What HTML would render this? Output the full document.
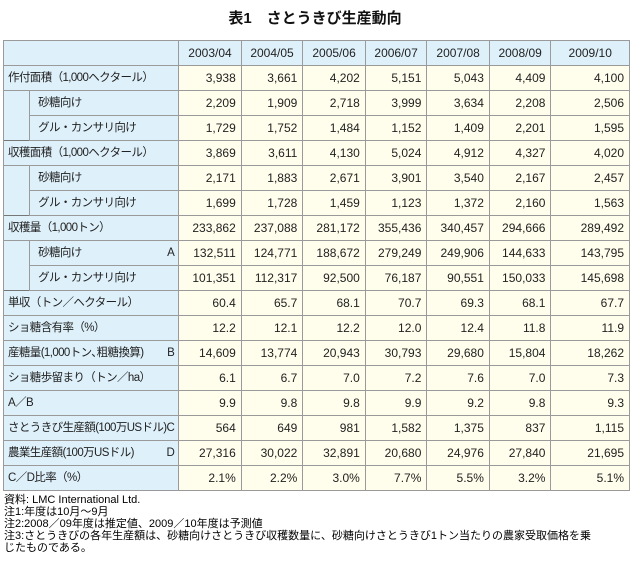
<!DOCTYPE html>
<html><head><meta charset="utf-8">
<style>
body{margin:0;width:630px;height:566px;background:#fff;overflow:hidden;font-family:"Liberation Sans","Noto Sans CJK JP",sans-serif;position:relative}
#title{position:absolute;top:7px;left:0;width:630px;text-align:center;font-size:15px;font-weight:bold;color:#111}
table{position:absolute;left:3px;top:40px;border-collapse:collapse;table-layout:fixed;font-size:12px;color:#222}
td{border:1px solid #9a9a9a;padding:0 5px;height:24px;line-height:24px;white-space:nowrap;overflow:hidden}
tr{height:25px}
td.l{background:#def0fa;text-align:left;padding:0 4px}
td.l div{display:flex;justify-content:space-between;font-size:11.5px;letter-spacing:-0.6px}
td.i{background:#def0fa;border-top:none;border-bottom:none}
td.h{background:#def0fa;text-align:center;height:23px;line-height:23px}
td.v{background:#fffdeb;text-align:right}
tr.g td{border-top:1px solid #777}
td.s{padding-left:8px}
#notes{position:absolute;left:4px;top:494px;font-size:11px;line-height:12px;color:#000}
</style></head>
<body>
<div id="title">表1　さとうきび生産動向</div>
<table>
<colgroup><col style="width:25px"><col style="width:143px"><col style="width:63px"><col style="width:62px"><col style="width:63px"><col style="width:62px"><col style="width:63px"><col style="width:62px"><col style="width:80px"></colgroup>
<tr><td class="h" colspan="2"></td><td class="h">2003/04</td><td class="h">2004/05</td><td class="h">2005/06</td><td class="h">2006/07</td><td class="h">2007/08</td><td class="h">2008/09</td><td class="h">2009/10</td></tr>
<tr class="g"><td class="l" colspan="2"><div>作付面積（1,000ヘクタール）</div></td><td class="v">3,938</td><td class="v">3,661</td><td class="v">4,202</td><td class="v">5,151</td><td class="v">5,043</td><td class="v">4,409</td><td class="v">4,100</td></tr>
<tr><td class="i" rowspan="2"></td><td class="l s"><div>砂糖向け</div></td><td class="v">2,209</td><td class="v">1,909</td><td class="v">2,718</td><td class="v">3,999</td><td class="v">3,634</td><td class="v">2,208</td><td class="v">2,506</td></tr>
<tr><td class="l s"><div>グル・カンサリ向け</div></td><td class="v">1,729</td><td class="v">1,752</td><td class="v">1,484</td><td class="v">1,152</td><td class="v">1,409</td><td class="v">2,201</td><td class="v">1,595</td></tr>
<tr class="g"><td class="l" colspan="2"><div>収穫面積（1,000ヘクタール）</div></td><td class="v">3,869</td><td class="v">3,611</td><td class="v">4,130</td><td class="v">5,024</td><td class="v">4,912</td><td class="v">4,327</td><td class="v">4,020</td></tr>
<tr><td class="i" rowspan="2"></td><td class="l s"><div>砂糖向け</div></td><td class="v">2,171</td><td class="v">1,883</td><td class="v">2,671</td><td class="v">3,901</td><td class="v">3,540</td><td class="v">2,167</td><td class="v">2,457</td></tr>
<tr><td class="l s"><div>グル・カンサリ向け</div></td><td class="v">1,699</td><td class="v">1,728</td><td class="v">1,459</td><td class="v">1,123</td><td class="v">1,372</td><td class="v">2,160</td><td class="v">1,563</td></tr>
<tr class="g"><td class="l" colspan="2"><div>収穫量（1,000トン）</div></td><td class="v">233,862</td><td class="v">237,088</td><td class="v">281,172</td><td class="v">355,436</td><td class="v">340,457</td><td class="v">294,666</td><td class="v">289,492</td></tr>
<tr><td class="i" rowspan="2"></td><td class="l s"><div><span>砂糖向け</span><span>A</span></div></td><td class="v">132,511</td><td class="v">124,771</td><td class="v">188,672</td><td class="v">279,249</td><td class="v">249,906</td><td class="v">144,633</td><td class="v">143,795</td></tr>
<tr><td class="l s"><div>グル・カンサリ向け</div></td><td class="v">101,351</td><td class="v">112,317</td><td class="v">92,500</td><td class="v">76,187</td><td class="v">90,551</td><td class="v">150,033</td><td class="v">145,698</td></tr>
<tr class="g"><td class="l" colspan="2"><div>単収（トン／ヘクタール）</div></td><td class="v">60.4</td><td class="v">65.7</td><td class="v">68.1</td><td class="v">70.7</td><td class="v">69.3</td><td class="v">68.1</td><td class="v">67.7</td></tr>
<tr><td class="l" colspan="2"><div>ショ糖含有率（%）</div></td><td class="v">12.2</td><td class="v">12.1</td><td class="v">12.2</td><td class="v">12.0</td><td class="v">12.4</td><td class="v">11.8</td><td class="v">11.9</td></tr>
<tr><td class="l" colspan="2"><div><span>産糖量(1,000トン､粗糖換算)</span><span>B</span></div></td><td class="v">14,609</td><td class="v">13,774</td><td class="v">20,943</td><td class="v">30,793</td><td class="v">29,680</td><td class="v">15,804</td><td class="v">18,262</td></tr>
<tr><td class="l" colspan="2"><div>ショ糖歩留まり（トン／ha）</div></td><td class="v">6.1</td><td class="v">6.7</td><td class="v">7.0</td><td class="v">7.2</td><td class="v">7.6</td><td class="v">7.0</td><td class="v">7.3</td></tr>
<tr><td class="l" colspan="2"><div>A／B</div></td><td class="v">9.9</td><td class="v">9.8</td><td class="v">9.8</td><td class="v">9.9</td><td class="v">9.2</td><td class="v">9.8</td><td class="v">9.3</td></tr>
<tr><td class="l" colspan="2"><div><span>さとうきび生産額(100万USドル)</span><span>C</span></div></td><td class="v">564</td><td class="v">649</td><td class="v">981</td><td class="v">1,582</td><td class="v">1,375</td><td class="v">837</td><td class="v">1,115</td></tr>
<tr><td class="l" colspan="2"><div><span>農業生産額(100万USドル)</span><span>D</span></div></td><td class="v">27,316</td><td class="v">30,022</td><td class="v">32,891</td><td class="v">20,680</td><td class="v">24,976</td><td class="v">27,840</td><td class="v">21,695</td></tr>
<tr><td class="l" colspan="2"><div>C／D比率（%）</div></td><td class="v">2.1%</td><td class="v">2.2%</td><td class="v">3.0%</td><td class="v">7.7%</td><td class="v">5.5%</td><td class="v">3.2%</td><td class="v">5.1%</td></tr>
</table>
<div id="notes">資料: LMC International Ltd.<br>注1:年度は10月〜9月<br>注2:2008／09年度は推定値、2009／10年度は予測値<br>注3:さとうきびの各年生産額は、砂糖向けさとうきび収穫数量に、砂糖向けさとうきび1トン当たりの農家受取価格を乗<br>じたものである。</div>
</body></html>
